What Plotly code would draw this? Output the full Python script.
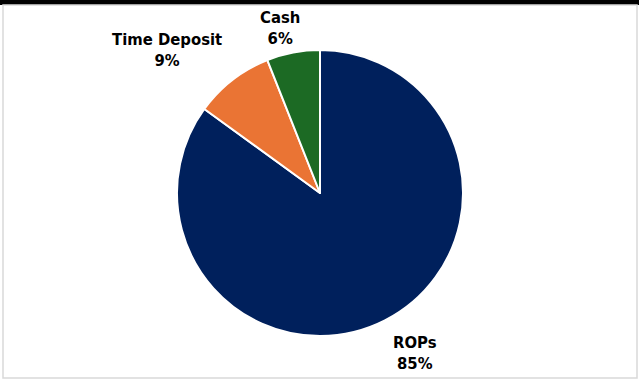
import math
import plotly.graph_objects as go

labels = ["ROPs", "Time Deposit", "Cash"]
values = [85, 9, 6]
colors = ["#00205C", "#EA7434", "#1C6A24"]

W, H = 639, 381
cx, cy, R = 320, 193, 143  # pixel center/radius of the pie
# small per-label pixel nudges (dx right, dy down) for label placement
label_nudge = [(0, -2), (0, 3), (-11, 12)]

fig = go.Figure()
fig.add_trace(go.Pie(
    labels=labels, values=values, sort=False, direction="clockwise", rotation=0,
    marker=dict(colors=colors, line=dict(color="white", width=2)),
    textinfo="none", hoverinfo="label+percent", showlegend=False,
    domain=dict(x=[(cx - R) / W, (cx + R) / W], y=[1 - (cy + R) / H, 1 - (cy - R) / H]),
))

total = sum(values)
cum = 0
annotations = []
for lab, v, (ndx, ndy) in zip(labels, values, label_nudge):
    mid = (cum + v / 2) / total * 2 * math.pi
    cum += v
    s, c = math.sin(mid), math.cos(mid)
    rl = R * 1.1
    px = cx + rl * s + ndx
    py = cy - rl * c + ndy
    xanchor = "left" if s > 0.3 else ("right" if s < -0.3 else "center")
    yanchor = "top" if c < -0.3 else ("bottom" if c > 0.3 else "middle")
    annotations.append(dict(
        x=px / W, y=1 - py / H, xref="paper", yref="paper",
        text=f"<b>{lab}<br>{round(v / total * 100)}%</b>", showarrow=False,
        xanchor=xanchor, yanchor=yanchor, align="center",
        font=dict(family="DejaVu Sans Condensed, DejaVu Sans", size=16.5, color="black"),
    ))

fig.update_layout(
    width=W, height=H, margin=dict(l=0, r=0, t=0, b=0),
    paper_bgcolor="white", plot_bgcolor="white",
    annotations=annotations,
    shapes=[
        dict(type="rect", xref="paper", yref="paper", x0=0, x1=1, y0=1 - 5 / H, y1=1,
             fillcolor="black", line=dict(width=0), layer="above"),
        dict(type="rect", xref="paper", yref="paper", x0=3 / W, x1=637 / W,
             y0=1 - 378 / H, y1=1 - 5 / H, fillcolor="rgba(0,0,0,0)",
             line=dict(color="#D9D9D9", width=1.5)),
    ],
)

fig.write_html("out.html")
